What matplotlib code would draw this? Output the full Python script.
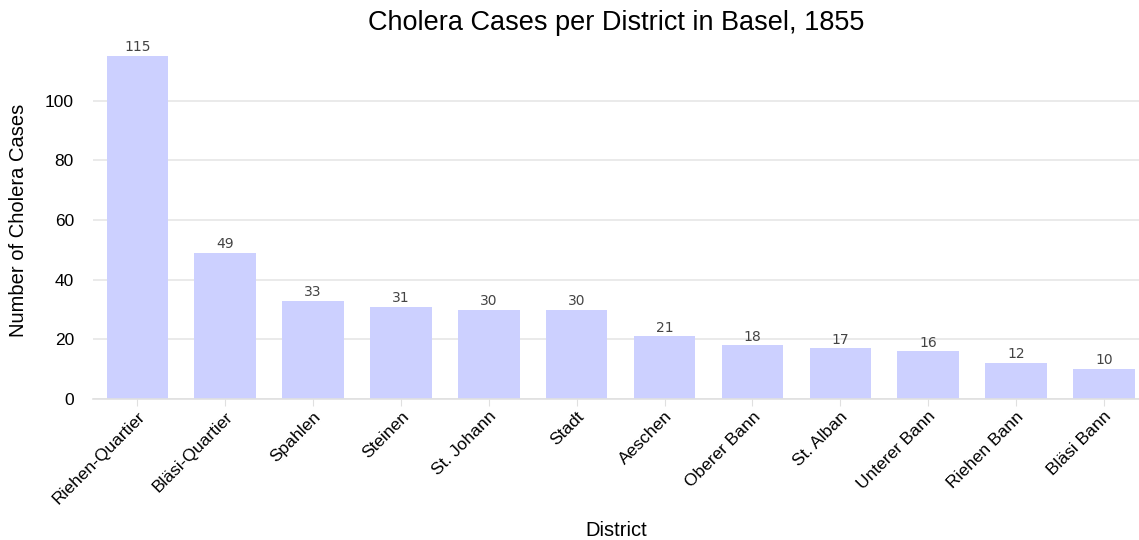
import matplotlib.pyplot as plt

districts = ["Riehen-Quartier", "Bläsi-Quartier", "Spahlen", "Steinen", "St. Johann",
             "Stadt", "Aeschen", "Oberer Bann", "St. Alban", "Unterer Bann",
             "Riehen Bann", "Bläsi Bann"]
cases = [115, 49, 33, 31, 30, 30, 21, 18, 17, 16, 12, 10]

plt.rcParams['font.family'] = ['Liberation Sans', 'DejaVu Sans']

fig = plt.figure(figsize=(11.39, 5.40), dpi=100)
ax = fig.add_axes([0.082, 0.261, 0.918, 0.663])

x = range(len(districts))
bars = ax.bar(x, cases, width=0.7, color="#ccd0ff", zorder=2)

for xi, v in zip(x, cases):
    ax.text(xi, v + 0.6, str(v), ha="center", va="bottom", fontsize=10,
            color="#444444", family="DejaVu Sans")

ax.set_xlim(-0.5, 11.4)
ax.set_ylim(0, 120)
ax.set_yticks([0, 20, 40, 60, 80, 100])
ax.yaxis.grid(True, color="#e6e6e6", linewidth=1.2, zorder=0)
ax.set_axisbelow(True)

for s in ["top", "right", "left"]:
    ax.spines[s].set_visible(False)
ax.spines["bottom"].set_color("#e0e0e0")
ax.spines["bottom"].set_linewidth(1.2)

ax.tick_params(axis="y", length=0, labelsize=12.5, pad=14)
ax.tick_params(axis="x", length=5, color="#e0e0e0", labelsize=12.5, pad=2)
ax.set_xticks(list(x))
ax.set_xticklabels(districts, rotation=45, ha="right", rotation_mode="anchor")

ax.set_xlabel("District", fontsize=14.5, labelpad=10)
ax.set_ylabel("Number of Cholera Cases", fontsize=14.5, labelpad=12)
ax.set_title("Cholera Cases per District in Basel, 1855", fontsize=19.5, pad=8)

fig.savefig("out.png", dpi=100)
